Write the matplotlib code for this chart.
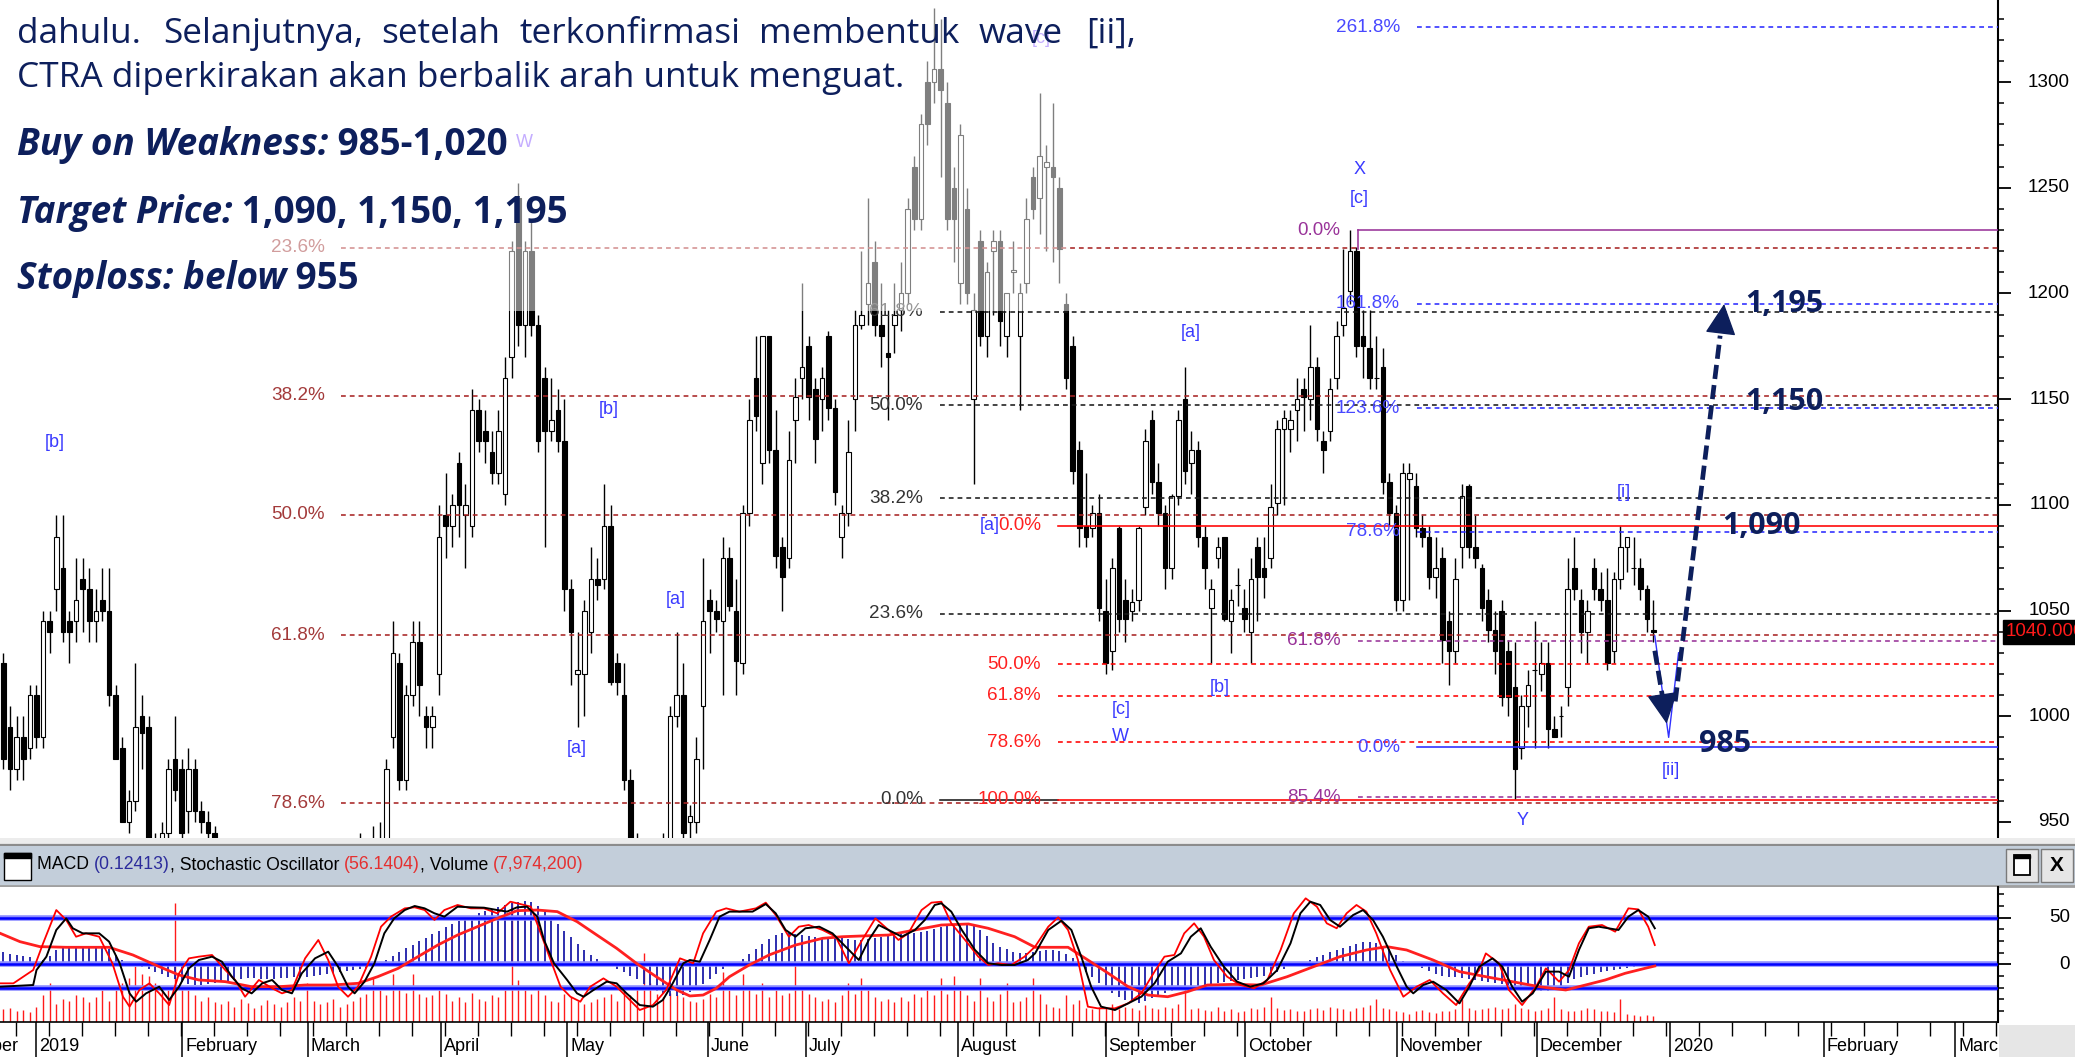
"""
CTRA daily candlestick chart with Elliott-wave / Fibonacci markup and a
MACD + stochastic + volume sub panel.  Saves out.png (2075 x 1057 px).
"""

import matplotlib
matplotlib.use("Agg")
import matplotlib.pyplot as plt
import numpy as np
from matplotlib.patches import Rectangle
from matplotlib.ticker import MultipleLocator

W, H = 2075, 1057

# ---------------------------------------------------------------- data
# trading-day index of the first candle (0 = first session of 2019)
FIRST_DAY = -5

OPEN = [
    1025, 995, 975, 990, 985,                                   # -5..-1
    1010, 990, 1045, 1060, 1070, 1045, 1045, 1065, 1060, 1045,  # 0..9
    1055, 1050, 1010, 985, 950, 960, 1000, 995, 940, 930,       # 10..19
    945, 980, 975, 955, 975, 955, 950, 945, 930, 920,           # 20..29
    910, 920, 910, 895, 905, 895, 880, 890, 880, 865,           # 30..39
    875, 890, 900, 895, 915, 925, 915, 905, 915, 930,           # 40..49
    925, 935, 930, 940, 990, 1025, 970, 1010, 1035, 1000,       # 50..59
    995, 1020, 1095, 1090, 1120, 1095, 1090, 1145, 1135, 1125,  # 60..69
    1115, 1105, 1170, 1245, 1185, 1220, 1185, 1160, 1135, 1145,  # 70..79
    1130, 1060, 1020, 1020, 1040, 1065, 1065, 1090, 1025, 1010,  # 80..89
    970, 940, 925, 915, 925, 930, 935, 1000, 1010, 950,         # 90..99
    950, 1005, 1055, 1050, 1045, 1075, 1050, 1025, 1096, 1160,  # 100..109
    1120, 1180, 1126, 1080, 1075, 1140, 1160, 1175, 1155, 1150,  # 110..119
    1180, 1146, 1085, 1096, 1150, 1185, 1195, 1215, 1185, 1172,  # 120..129
    1185, 1192, 1200, 1260, 1235, 1300, 1300, 1306, 1290, 1250,  # 130..139
    1205, 1240, 1150, 1225, 1180, 1220, 1225, 1180, 1210, 1180,  # 140..149
    1205, 1255, 1245, 1260, 1260, 1250, 1195, 1175, 1126, 1090,  # 150..159
    1089, 1096, 1050, 1031, 1089, 1055, 1050, 1055, 1099, 1140,  # 160..169
    1111, 1096, 1070, 1104, 1150, 1120, 1126, 1085, 1051, 1075,  # 170..179
    1085, 1045, 1062, 1051, 1040, 1080, 1070, 1075, 1101, 1136,  # 180..189
    1136, 1145, 1155, 1150, 1165, 1130, 1135, 1160, 1185, 1201,  # 190..199
    1220, 1180, 1174, 1160, 1165, 1111, 1096, 1055, 1112, 1109,  # 200..209
    1089, 1085, 1066, 1075, 1045, 1031, 1080, 1109, 1080, 1070,  # 210..219
    1055, 1041, 1050, 1031, 1014, 985, 1005, 1022, 1020, 1025,   # 220..229
    994, 1000, 1014, 1070, 1055, 1040, 1070, 1060, 1055, 1031,   # 230..239
    1065, 1080, 1070, 1070, 1060, 1041,                          # 240..245
]
HIGH = [
    1030, 1005, 1000, 1000, 1015,
    1015, 1050, 1050, 1095, 1095, 1050, 1075, 1075, 1070, 1060,
    1070, 1070, 1015, 990, 965, 1025, 1010, 1000, 945, 950,
    980, 1000, 980, 985, 980, 960, 955, 948, 940, 935,
    925, 930, 915, 910, 915, 900, 895, 900, 890, 880,
    895, 905, 915, 920, 930, 935, 925, 920, 935, 945,
    940, 948, 950, 980, 1045, 1030, 1015, 1045, 1045, 1005,
    1005, 1100, 1115, 1105, 1125, 1110, 1155, 1150, 1145, 1135,
    1145, 1170, 1225, 1252, 1225, 1235, 1190, 1165, 1160, 1155,
    1150, 1065, 1040, 1055, 1080, 1075, 1110, 1100, 1030, 1025,
    975, 945, 935, 930, 940, 945, 1005, 1040, 1025, 958,
    990, 1075, 1060, 1055, 1085, 1080, 1065, 1100, 1150, 1180,
    1180, 1180, 1145, 1085, 1135, 1160, 1205, 1180, 1160, 1165,
    1182, 1150, 1100, 1140, 1192, 1220, 1245, 1225, 1205, 1192,
    1205, 1215, 1245, 1265, 1285, 1310, 1335, 1330, 1300, 1260,
    1280, 1250, 1200, 1230, 1215, 1230, 1230, 1200, 1225, 1205,
    1245, 1260, 1295, 1270, 1290, 1255, 1200, 1180, 1130, 1115,
    1100, 1105, 1065, 1075, 1090, 1065, 1060, 1090, 1136, 1145,
    1120, 1100, 1105, 1145, 1165, 1135, 1130, 1090, 1065, 1085,
    1085, 1060, 1070, 1060, 1075, 1085, 1085, 1110, 1140, 1145,
    1145, 1160, 1160, 1185, 1170, 1135, 1160, 1187, 1221, 1230,
    1222, 1192, 1192, 1180, 1174, 1115, 1100, 1120, 1120, 1115,
    1095, 1090, 1085, 1080, 1050, 1075, 1110, 1110, 1095, 1072,
    1060, 1050, 1055, 1036, 1035, 1010, 1022, 1045, 1035, 1035,
    1000, 1005, 1075, 1085, 1060, 1055, 1075, 1068, 1070, 1068,
    1090, 1085, 1085, 1075, 1062, 1055,
]
LOW = [
    975, 965, 970, 970, 980,
    985, 985, 1030, 1050, 1035, 1025, 1035, 1040, 1035, 1035,
    1045, 1005, 980, 950, 945, 955, 975, 935, 920, 925,
    940, 960, 940, 945, 950, 945, 935, 925, 915, 905,
    900, 905, 890, 885, 890, 875, 870, 875, 860, 855,
    870, 880, 890, 890, 905, 910, 900, 895, 910, 920,
    915, 925, 925, 930, 985, 965, 965, 1005, 1000, 985,
    985, 1010, 1075, 1080, 1085, 1070, 1085, 1125, 1120, 1110,
    1110, 1100, 1160, 1175, 1170, 1180, 1125, 1080, 1130, 1125,
    1050, 1015, 995, 1000, 1030, 1055, 1060, 1015, 1010, 965,
    935, 920, 910, 905, 915, 920, 930, 995, 940, 940,
    945, 975, 1030, 1040, 1010, 1050, 1010, 1020, 1090, 1135,
    1110, 1120, 1070, 1050, 1070, 1120, 1150, 1140, 1120, 1135,
    1140, 1100, 1075, 1090, 1135, 1183, 1185, 1180, 1165, 1140,
    1172, 1182, 1195, 1230, 1230, 1270, 1290, 1255, 1230, 1215,
    1195, 1195, 1110, 1175, 1170, 1190, 1175, 1170, 1200, 1145,
    1200, 1235, 1228, 1220, 1215, 1205, 1155, 1110, 1080, 1080,
    1085, 1045, 1020, 1022, 1040, 1035, 1045, 1050, 1095, 1105,
    1090, 1060, 1065, 1100, 1110, 1105, 1080, 1060, 1025, 1070,
    1045, 1030, 1052, 1040, 1025, 1045, 1056, 1070, 1095, 1100,
    1125, 1130, 1135, 1140, 1130, 1115, 1130, 1155, 1180, 1195,
    1170, 1160, 1155, 1155, 1105, 1090, 1050, 1050, 1055, 1085,
    1080, 1060, 1056, 1025, 1015, 1025, 1070, 1075, 1070, 1045,
    1035, 1020, 1005, 1000, 961, 980, 995, 985, 1012, 985,
    990, 990, 1005, 1055, 1030, 1025, 1055, 1050, 1022, 1025,
    1060, 1068, 1062, 1055, 1040, 1035,
]
CLOSE = [
    980, 975, 990, 980, 1010,
    990, 1045, 1040, 1085, 1040, 1040, 1055, 1060, 1045, 1050,
    1050, 1010, 980, 950, 960, 995, 992, 940, 930, 945,
    975, 965, 945, 975, 955, 950, 945, 930, 920, 910,
    920, 910, 895, 905, 895, 880, 890, 880, 865, 875,
    890, 900, 895, 915, 925, 915, 905, 915, 930, 925,
    935, 930, 940, 975, 1030, 970, 1010, 1035, 1015, 995,
    1000, 1085, 1090, 1100, 1100, 1100, 1145, 1130, 1130, 1115,
    1135, 1160, 1220, 1185, 1220, 1185, 1130, 1135, 1140, 1130,
    1060, 1040, 1022, 1050, 1065, 1062, 1090, 1016, 1016, 970,
    940, 925, 915, 925, 930, 935, 1000, 1010, 945, 953,
    980, 1045, 1050, 1046, 1075, 1052, 1026, 1096, 1140, 1142,
    1180, 1126, 1076, 1066, 1121, 1151, 1165, 1151, 1131, 1160,
    1146, 1106, 1096, 1125, 1185, 1190, 1205, 1185, 1180, 1170,
    1190, 1200, 1240, 1235, 1280, 1280, 1306, 1296, 1235, 1235,
    1275, 1200, 1192, 1180, 1210, 1225, 1187, 1200, 1211, 1200,
    1235, 1240, 1265, 1262, 1255, 1221, 1160, 1116, 1089, 1085,
    1096, 1051, 1025, 1070, 1046, 1046, 1054, 1089, 1130, 1111,
    1096, 1070, 1104, 1140, 1116, 1126, 1085, 1070, 1060, 1080,
    1046, 1055, 1062, 1046, 1065, 1066, 1066, 1099, 1136, 1141,
    1140, 1150, 1151, 1165, 1136, 1126, 1155, 1180, 1193, 1220,
    1175, 1175, 1160, 1160, 1111, 1096, 1055, 1115, 1115, 1089,
    1085, 1066, 1070, 1036, 1031, 1065, 1104, 1080, 1075, 1051,
    1041, 1031, 1009, 1009, 975, 1005, 1015, 1022, 1025, 994,
    990, 1000, 1060, 1060, 1040, 1050, 1060, 1055, 1025, 1065,
    1080, 1085, 1070, 1060, 1046, 1040,
]

# volume, millions of shares, one per candle
VOLUME = [
    18, 20, 15, 17, 14,
    22, 38, 56, 25, 33, 30, 38, 35, 28, 36, 45,
    30, 45, 56, 62, 80, 68, 65, 56, 50, 45,
    170,
    50, 45, 38, 30, 35, 28, 25, 30, 22, 33, 27, 20, 24, 31, 26, 22, 28, 35, 30,
    56, 30, 25, 28, 33, 22, 26, 30, 35, 40, 62, 45, 38, 68, 50, 42, 68, 40, 35, 38,
    45, 40, 30, 36, 28, 42, 33, 30, 38, 35, 45, 170, 60, 45, 40,
    50, 38, 30, 28, 40, 35, 30, 25, 28, 33, 36, 40, 30, 45, 38, 50, 98, 55, 40, 35,
    42, 38, 35, 30, 28, 33, 40, 36, 71, 45, 38, 68, 50, 40, 56, 35, 45, 38, 42, 86,
    50, 40, 36, 30, 33, 28, 38, 56, 40, 62, 45, 35, 30, 33, 28, 36, 30, 40, 35, 45,
    38, 62, 40, 66, 45, 38, 30, 62, 35, 30, 40, 56, 28, 30, 35, 62, 40,
    25, 22, 20, 38, 25, 32, 20, 18,
    22, 20, 25, 18, 22, 20, 17, 24, 20, 18,
    22, 20, 25, 48, 18, 20, 17, 16, 22, 15,
    18, 14, 16, 20, 18, 22, 36, 20, 17, 18,
    16, 15, 18, 20, 17, 22, 20, 18, 16, 20,
    22, 24, 33, 20, 18, 16, 14, 12, 15, 17,
    14, 13, 16, 15, 18, 33, 20, 17, 18, 20,
    22, 18, 20, 25, 20, 18, 16, 17, 20, 36,
    18, 16, 15, 17, 20, 18, 16, 15, 14, 33,
    12, 10, 9, 10, 8,
]

# MACD histogram in panel units, one per candle
MACD_HIST = [
    13, 11, 10, 9, 8,
    3, 5, 9,
    15, 17, 18, 18, 18, 18, 18, 17, 16,
    10, 5, 1, -2,
    -3, -5, -8, -10, -13, -16, -19, -21, -22, -22,
    -21, -20, -19, -18, -17, -16, -15, -15, -16, -16,
    -16, -15, -15, -14, -13, -13, -12, -11, -10, -9,
    -8, -7, -6, -5, -4, -3,
    2, 5, 9, 13, 17, 21, 25, 28, 32, 36,
    40, 43, 46, 49, 52, 55, 57, 59, 61, 63,
    65, 67, 68, 67, 62, 56, 50, 43, 36, 29,
    22, 15, 10, 6, 3,
    -2, -5, -8, -12, -16, -21, -25, -29, -32, -34, -34, -33, -30, -26, -21, -16, -10,
    -5, -2, 2, 6, 11, 16, 22, 27, 31, 33,
    33, 32, 31, 30, 29, 28, 28, 28, 28, 27,
    26, 26, 27, 28, 29, 30, 31, 32, 32, 33,
    34, 36, 38, 40, 42, 43, 44, 44, 42, 37,
    30, 23, 19, 16, 13,
    12, 12, 13, 14, 15, 15, 14, 11, 7,
    -3, -8, -14, -20, -26, -31, -35, -38, -40, -41,
    -39, -36, -33, -31, -29, -27, -25, -24, -23, -22,
    -21, -20, -19, -18, -17, -16, -15, -14, -12, -10,
    -8, -5, -2,
    1, 3, 5, 8, 10, 13, 15, 17, 20, 22, 24, 24, 23, 20, 16, 10, 4,
    -1, -2, -4, -7, -10, -12, -13, -14, -15, -16,
    -17, -18, -19, -20, -21, -23, -25, -26, -27, -28,
    -29, -28, -26, -23, -20, -16, -13, -11, -10, -8,
    -7, -6, -5,
    -4, -3, -2, -2, -1,
]

# stochastic %K (black)
STOCH_K_X = [
    -5.5, -0.5, 0.0, 1.5, 3.0, 4.5, 5.5, 7.0, 9.5, 11.0,
    12.6, 14.1, 15.1, 16.6, 18.6, 20.1, 21.6, 23.1, 24.6, 26.6,
    28.1, 29.6, 31.1, 32.6, 34.2, 35.7, 37.2, 38.7, 40.2, 42.2,
    44.2, 45.7, 47.2, 48.2, 49.7, 51.2, 52.7, 54.2, 55.8, 57.3,
    58.8, 60.3, 61.8, 63.8, 65.8, 67.8, 69.8, 71.3, 72.8, 74.3,
    75.9, 76.9, 78.4, 80.4, 81.9, 82.9, 84.4, 86.4, 87.9, 89.4,
    91.4, 93.4, 94.9, 96.4, 98.0, 99.0, 100.5, 102.0, 103.5, 105.0,
    106.5, 108.5, 110.5, 112.0, 113.5, 115.0, 116.5, 118.6, 120.6, 122.6,
    124.6, 126.1, 127.6, 129.1, 131.1, 133.1, 134.6, 136.1, 137.1, 138.6,
    140.2, 142.2, 144.2, 146.2, 148.2, 150.2, 151.3, 153.3, 155.3, 156.8,
    158.3, 159.8, 161.3, 163.4, 165.4, 167.4, 169.4, 171.4, 173.4, 174.9,
    176.4, 177.9, 179.9, 181.9, 183.9, 185.9, 188.0, 190.0, 191.5, 193.0,
    194.5, 196.0, 197.5, 199.5, 201.0, 202.5, 204.0, 206.1, 207.6, 208.6,
    210.1, 211.6, 213.6, 215.6, 217.1, 218.6, 220.6, 222.1, 223.6, 225.1,
    226.7, 228.7, 230.7, 232.2, 233.7, 235.2, 236.7, 238.2, 239.7, 241.2,
    242.7, 244.2, 245.2,
]
STOCH_K = [
    -23.9, -22.1, -6.1, 8.2, 36.7, 49.1, 38.5, 33.1, 33.1, 24.2,
    1.1, -31.0, -39.9, -31.0, -23.9, -38.1, -23.9, -4.3, 4.6, 8.2,
    2.8, -13.2, -25.6, -31.0, -20.3, -16.7, -27.4, -31.0, -9.6, 6.4,
    13.5, -2.5, -23.9, -31.0, -18.5, 1.1, 33.1, 49.1, 58.0, 62.3,
    59.8, 54.5, 50.9, 61.6, 60.9, 60.5, 58.0, 56.3, 60.9, 61.6,
    50.9, 26.0, 1.1, -16.7, -31.0, -34.6, -27.4, -18.5, -20.3, -31.0,
    -43.5, -45.2, -38.1, -20.3, 1.1, 4.6, 2.8, 26.0, 50.9, 56.3,
    56.3, 56.3, 64.4, 54.5, 36.7, 29.5, 38.5, 40.2, 33.1, 18.9,
    4.6, 26.0, 42.0, 36.7, 29.5, 36.7, 47.4, 63.4, 65.2, 56.3,
    36.7, 15.3, 1.1, -0.7, -0.7, 4.6, 11.7, 36.7, 46.6, 36.7,
    8.2, -23.9, -45.2, -48.8, -41.7, -34.6, -20.3, 2.8, 11.7, 29.5,
    38.5, 18.9, -2.5, -18.5, -23.9, -20.3, -6.1, 22.4, 54.5, 66.9,
    63.4, 47.4, 40.2, 52.7, 58.0, 47.4, 29.5, -2.5, -23.9, -31.0,
    -22.1, -18.5, -27.4, -41.7, -23.9, -2.5, 6.4, -2.5, -23.9, -39.9,
    -31.0, -7.8, -7.8, -13.2, 15.3, 38.5, 40.2, 38.5, 36.7, 50.9,
    58.0, 50.9, 38.5,
]

# stochastic fast line (thin red)
STOCH_F_X = [
    -5.5, -3.5, -0.5, 1.0, 3.0, 4.5, 6.0, 7.5, 9.5, 11.5,
    13.1, 14.1, 15.6, 17.1, 18.6, 20.1, 21.6, 23.1, 24.6, 26.6,
    28.6, 30.1, 31.6, 33.7, 35.7, 37.2, 38.7, 40.7, 42.7, 44.2,
    45.7, 47.2, 48.7, 50.7, 52.2, 53.7, 55.8, 57.3, 58.8, 60.3,
    61.8, 63.8, 65.8, 67.8, 69.8, 71.8, 73.3, 74.9, 76.4, 77.9,
    79.4, 80.9, 82.4, 83.9, 85.9, 87.9, 89.9, 91.4, 93.4, 95.4,
    97.5, 99.5, 101.0, 103.0, 104.5, 106.5, 109.0, 110.5, 112.0, 114.0,
    115.5, 117.0, 119.1, 121.1, 123.1, 125.1, 127.1, 129.1, 130.6, 132.1,
    134.1, 135.6, 137.1, 138.6, 140.7, 142.7, 144.2, 145.7, 147.7, 149.7,
    151.3, 153.3, 154.8, 156.3, 157.8, 159.3, 160.8, 163.4, 165.4, 167.4,
    169.4, 170.9, 172.4, 173.9, 175.4, 176.9, 178.4, 180.4, 182.4, 184.5,
    186.5, 188.5, 190.5, 192.3, 194.0, 195.5, 197.0, 198.5, 200.0, 201.5,
    203.0, 205.1, 207.1, 209.1, 211.1, 213.1, 215.1, 217.1, 218.6, 219.6,
    221.6, 223.1, 225.1, 227.2, 228.7, 230.7, 232.2, 233.7, 235.2, 237.2,
    239.2, 241.2, 242.7, 244.2, 245.2,
]
STOCH_F = [
    -20.3, -20.3, -6.1, 22.4, 58.0, 47.4, 29.5, 33.1, 29.5, 1.1,
    -34.6, -45.2, -27.4, -20.3, -31.0, -43.5, -9.6, 6.4, 8.2, 10.0,
    -6.1, -16.7, -34.6, -16.7, -25.6, -31.0, -27.4, 6.4, 26.0, 4.6,
    -23.9, -34.6, -23.9, 8.2, 40.2, 50.9, 59.8, 60.9, 58.0, 47.4,
    58.0, 63.4, 59.8, 59.8, 54.5, 66.9, 64.4, 61.6, 33.1, 4.6,
    -23.9, -34.6, -39.9, -23.9, -15.0, -23.9, -38.1, -48.8, -43.5, -27.4,
    6.4, 1.1, 33.1, 56.3, 59.8, 56.3, 59.8, 65.9, 52.7, 29.5,
    40.2, 42.0, 36.7, 29.5, 1.1, 26.0, 49.1, 36.7, 26.0, 33.1,
    58.0, 65.9, 66.9, 43.8, 26.0, 8.2, -0.7, 1.1, -0.7, 8.2,
    18.9, 40.2, 50.2, 36.7, 4.6, -45.2, -47.0, -47.0, -41.7, -31.0,
    -7.8, 8.2, 10.0, 33.1, 43.8, 29.5, 4.6, -13.2, -22.1, -25.6,
    -16.7, 15.3, 54.5, 70.5, 61.6, 43.8, 38.5, 54.5, 63.4, 56.3,
    33.1, -6.1, -34.6, -23.9, -16.7, -31.0, -43.5, -20.3, -6.1, 11.7,
    1.1, -27.4, -43.5, -23.9, -4.3, -18.5, -6.1, 22.4, 40.2, 42.0,
    34.9, 59.8, 58.7, 40.2, 20.6,
]

# slow signal line (thick red)
SIGNAL_X = [
    -5.5, -2.5, 0.5, 4.5, 11.0, 14.6, 18.6, 21.6, 24.6, 28.6,
    32.6, 36.7, 40.7, 44.7, 48.7, 51.7, 54.8, 57.8, 60.8, 63.8,
    66.8, 69.8, 72.8, 75.9, 78.9, 81.9, 84.9, 87.9, 90.9, 93.9,
    97.0, 99.0, 101.0, 103.0, 105.0, 108.0, 111.0, 115.0, 119.1, 122.1,
    125.1, 129.1, 133.1, 137.1, 141.2, 144.2, 148.2, 151.3, 156.3, 159.3,
    162.4, 165.4, 168.4, 171.4, 174.4, 177.4, 181.4, 185.5, 189.5, 193.5,
    197.5, 201.5, 204.6, 207.6, 211.6, 215.6, 219.6, 223.6, 227.7, 231.7,
    234.7, 237.7, 240.7, 243.7, 245.2,
]
SIGNAL = [
    33.1, 24.2, 18.9, 18.2, 18.2, 10.0, -2.5, -11.4, -16.7, -18.5,
    -23.9, -23.9, -22.1, -22.1, -20.3, -13.2, -4.3, 8.2, 20.6, 31.3,
    40.2, 49.1, 57.3, 58.0, 56.3, 45.6, 31.3, 17.1, 1.1, -13.2,
    -27.4, -33.8, -32.8, -25.6, -13.2, -0.7, 10.0, 20.6, 27.8, 29.5,
    30.3, 31.3, 36.7, 42.0, 43.1, 38.5, 29.5, 18.2, 18.2, 4.6,
    -9.6, -23.9, -32.8, -34.6, -29.2, -22.1, -21.4, -22.1, -13.2, -2.5,
    8.2, 15.3, 18.9, 15.3, 4.6, -7.8, -13.2, -18.5, -23.9, -27.4,
    -22.1, -16.7, -9.6, -4.3, -1.8,
]
IND_LEVELS = [50, 0, -25.6]

# Fibonacci sets: labels and the price each line sits on
DARKRED_FIB = ["23.6%", "38.2%", "50.0%", "61.8%", "78.6%"]
DARKRED_PRICE = [1221.7, 1151.6, 1095.3, 1038.4, 958.9]
BLACK_FIB = ["61.8%", "50.0%", "38.2%", "23.6%", "0.0%"]
BLACK_PRICE = [1191.4, 1147.2, 1103.1, 1048.5, 960.4]
RED_FIB = ["0.0%", "50.0%", "61.8%", "78.6%", "100.0%"]
RED_PRICE = [1090.0, 1024.5, 1009.7, 987.7, 960.4]
PURPLE_FIB = ["0.0%", "61.8%", "85.4%"]
PURPLE_PRICE = [1230.0, 1035.6, 961.6]
BLUE_FIB = ["261.8%", "161.8%", "123.6%", "78.6%", "0.0%"]
BLUE_PRICE = [1326.0, 1195.0, 1145.8, 1087.3, 985.4]

# Elliott wave labels (trading-day index, price)
WAVE_TEXT = ["[b]", "[b]", "[a]", "[a]", "[a]", "X", "[c]", "[c]", "W", "[b]", "[i]", "[ii]", "Y"]
WAVE_X = [2.7, 86.7, 81.9, 96.9, 174.9, 200.4, 200.4, 164.3, 164.3, 179.3, 240.5, 247.7, 225.2]
WAVE_Y = [1129.7, 1145.3, 984.9, 1055.0, 1181.7, 1258.8, 1244.7, 1003.4, 990.6, 1013.8, 1106.0, 974.5, 950.9]
FADED_TEXT = ["W", "[c]"]
FADED_X = [74.0, 152.3]
FADED_Y = [1271.6, 1320.8]

TARGET_TEXT = ["1,195", "1,150", "1,090", "985"]
TARGET_X = [258.9, 258.9, 255.4, 251.9]
TARGET_Y = [1195.0, 1148.6, 1090.0, 986.8]

MONTH_NAMES = ["December", "2019", "February", "March", "April", "May", "June", "July",
               "August", "September", "October", "November", "December", "2020",
               "February", "March"]
MONTH_POS = [-15.8, 0, 22.05, 41.1, 61.3, 80.4, 101.7, 116.6, 139.6, 162.0, 183.1,
             206.1, 227.3, 247.5, 270.8, 290.7]

LAST_PRICE = 1040

# ---------------------------------------------------------------- style
NAVY = "#0d1f5c"
DARKRED = "#a82424"
PURPLE = "#993399"
BLUE = "#2b2bff"
WAVE_BLUE = "#3a3aff"
CHART_FONT = "Liberation Sans"
TEXT_FONT = "Open Sans"
DOTS = (0, (3, 2.5))

X_MIN, X_MAX = -5.53, 297.2
P_MIN, P_MAX = 942.4, 1338.8
IND_MIN, IND_MAX = -61.6, 82.6
VOL_SCALE = 0.75


def fbox(x0, y0, x1, y1):
    """pixel box (top-left origin) -> figure fraction rect"""
    return [x0 / W, 1 - y1 / H, (x1 - x0) / W, (y1 - y0) / H]


fig = plt.figure(figsize=(W / 100, H / 100), dpi=100)
fig.patch.set_facecolor("white")

# ================================================================ price panel
ax = fig.add_axes(fbox(0, 0, 1998, 838))
for side in ("top", "left", "bottom"):
    ax.spines[side].set_visible(False)
ax.spines["right"].set_linewidth(1.5)
ax.set_xticks([])
ax.yaxis.tick_right()
ax.yaxis.set_major_locator(MultipleLocator(50))
ax.yaxis.set_minor_locator(MultipleLocator(10))
ax.tick_params(axis="y", which="major", length=9, width=1.3, labelright=False)
ax.tick_params(axis="y", which="minor", length=4.5, width=1.1)

idx = np.arange(FIRST_DAY, FIRST_DAY + len(OPEN))
o, h, l, c = (np.array(v, dtype=float) for v in (OPEN, HIGH, LOW, CLOSE))
up = c >= o
ax.vlines(idx, l, h, color="black", lw=1.0, zorder=2)
ax.bar(idx, np.abs(c - o), bottom=np.minimum(o, c), width=0.72,
       color=np.where(up, "white", "black"), edgecolor="black", linewidth=0.8, zorder=2.1)


def fib(labels, prices, x_line, x_label, color, label_color, solid=(), ends=None):
    for k, (lab, p) in enumerate(zip(labels, prices)):
        x1 = X_MAX if ends is None or ends[k] is None else ends[k]
        ax.plot([x_line, x1], [p, p], color=color, lw=1.15,
                ls="-" if lab in solid else DOTS, zorder=3)
        ax.text(x_label, p, lab, color=label_color, ha="right", va="center",
                fontsize=13.6, family=CHART_FONT, zorder=4)


fib(DARKRED_FIB, DARKRED_PRICE, 46.2, 43.7, DARKRED, "#a33a3a")
fib(BLACK_FIB, BLACK_PRICE, 136.9, 134.3, "#1a1a1a", "#333333", solid=("0.0%",),
    ends=[None, None, None, None, 154.7])
fib(RED_FIB, RED_PRICE, 154.8, 152.2, "#ff0000", "#ff2020", solid=("0.0%", "100.0%"))
fib(PURPLE_FIB, PURPLE_PRICE, 200.3, 197.6, PURPLE, PURPLE, solid=("0.0%",))
fib(BLUE_FIB, BLUE_PRICE, 209.2, 206.6, BLUE, "#4848ff", solid=("0.0%",))
ax.plot([200.3, 200.3], [PURPLE_PRICE[0], 1221], color=PURPLE, lw=1.15, zorder=3)
ax.text(145.9, RED_PRICE[0], "[a]", color=WAVE_BLUE, ha="right", va="center",
        fontsize=13, family=CHART_FONT, zorder=4)

for s, x, y in zip(WAVE_TEXT, WAVE_X, WAVE_Y):
    ax.text(x, y, s, color=WAVE_BLUE, ha="center", va="center", fontsize=13,
            family=CHART_FONT, zorder=4)
for s, x, y in zip(FADED_TEXT, FADED_X, FADED_Y):
    ax.text(x, y, s, color="#8a5cff", ha="center", va="center", fontsize=13,
            family=CHART_FONT, zorder=4)

# white veil behind the commentary text
ax.add_patch(Rectangle((X_MIN, 1191.7), 156.6 - X_MIN, P_MAX - 1191.7,
                       facecolor="white", alpha=0.5, edgecolor="none", zorder=5))

# projected path
ax.plot([245.2, 247.3, 248.8], [1038, 990, 1030], color="#3030ff", lw=1.0, zorder=5.5)
ax.plot([245.2, 246.7], [1031, 1003], color=NAVY, lw=3.4, ls=(0, (3, 1.3)), zorder=6)
ax.annotate("", xy=(247.0, 996.5), xytext=(246.55, 1006),
            arrowprops=dict(arrowstyle="-|>,head_length=1.1,head_width=0.55", color=NAVY,
                            lw=1, mutation_scale=18, shrinkA=0, shrinkB=0), zorder=6)
ax.plot([248.3, 255.1], [1007, 1180], color=NAVY, lw=3.4, ls=(0, (3, 1.3)), zorder=6)
ax.annotate("", xy=(255.7, 1195), xytext=(255.2, 1182),
            arrowprops=dict(arrowstyle="-|>,head_length=1.1,head_width=0.55", color=NAVY,
                            lw=1, mutation_scale=18, shrinkA=0, shrinkB=0), zorder=6)
for s, x, y in zip(TARGET_TEXT, TARGET_X, TARGET_Y):
    ax.text(x, y, s, color=NAVY, ha="left", va="center", fontsize=22, fontweight="bold",
            family=TEXT_FONT, zorder=6)

ax.set_xlim(X_MIN, X_MAX)
ax.set_ylim(P_MIN, P_MAX)

# right-hand price labels and last price tag
for v in range(950, 1301, 50):
    ax.annotate(str(v), xy=(1, v), xycoords=("axes fraction", "data"), xytext=(72, 0),
                textcoords="offset pixels", ha="right", va="center", fontsize=13.6,
                family=CHART_FONT, annotation_clip=False)
ax.annotate(f"{LAST_PRICE:.3f}", xy=(1, LAST_PRICE), xycoords=("axes fraction", "data"),
            xytext=(8, 0), textcoords="offset pixels", ha="left", va="center",
            fontsize=13.6, family=CHART_FONT, color="#ff1a1a", annotation_clip=False,
            bbox=dict(boxstyle="square,pad=0.18", fc="black", ec="black"), zorder=8)

# commentary text (top left)
LINE2_WORDS = ["dahulu.", "Selanjutnya,", "setelah", "terkonfirmasi", "membentuk", "wave", "[ii],"]
LINE2_X = [17, 163, 381, 519, 759, 979, 1086]
for word, x in zip(LINE2_WORDS, LINE2_X):
    ax.text(x / W, 1 - 43 / H, word, transform=fig.transFigure, fontsize=25.3,
            family=TEXT_FONT, color=NAVY, va="baseline", ha="left", zorder=7)
ax.text(17 / W, 1 - 87 / H, "CTRA diperkirakan akan berbalik arah untuk menguat.",
        transform=fig.transFigure, fontsize=25.4, family=TEXT_FONT, color=NAVY,
        va="baseline", ha="left", zorder=7)


def chained(axis, parts, x, y, **base):
    prev = None
    for s, extra in parts:
        kw = dict(base)
        kw.update(extra)
        if prev is None:
            prev = axis.text(x / W, 1 - y / H, s, transform=fig.transFigure,
                             va="baseline", ha="left", **kw)
        else:
            prev = axis.annotate(s, xy=(1, 0), xycoords=prev, va="bottom", ha="left",
                                 annotation_clip=False, **kw)
    return prev


bold = dict(fontsize=26.6, family=TEXT_FONT, color=NAVY, fontweight="bold", zorder=7)
chained(ax, [("Buy on Weakness:", {"fontstyle": "italic"}), (" 985-1,020", {})], 17, 155, **bold)
chained(ax, [("Target Price:", {"fontstyle": "italic"}), (" 1,090, 1,150, 1,195", {})], 17, 223, **bold)
chained(ax, [("Stoploss: below", {"fontstyle": "italic"}), (" 955", {})], 17, 289, **bold)

# ================================================================ separators / header
ax_sep = fig.add_axes(fbox(0, 838, 2075, 846))
ax_sep.set_facecolor("#ececec")
ax_sep.set_xticks([])
ax_sep.set_yticks([])
for sp in ax_sep.spines.values():
    sp.set_visible(False)
ax_sep.axhline(0.1, color="#8c8c8c", lw=1.6)

ax_head = fig.add_axes(fbox(0, 846, 2075, 886))
ax_head.set_facecolor("#c3ceda")
ax_head.set_xlim(0, W)
ax_head.set_ylim(886, 846)
ax_head.set_xticks([])
ax_head.set_yticks([])
for sp in ax_head.spines.values():
    sp.set_visible(False)
ax_head.spines["bottom"].set_visible(True)
ax_head.spines["bottom"].set_color("#a0a0a0")
ax_head.spines["bottom"].set_linewidth(2)

# window icon and buttons
ax_head.add_patch(Rectangle((4, 853), 27, 27, facecolor="white", edgecolor="black", lw=1))
ax_head.add_patch(Rectangle((4, 853), 27, 5, facecolor="black", edgecolor="black", lw=1))
for bx in (2006, 2041):
    ax_head.add_patch(Rectangle((bx, 849), 32, 33, facecolor="#e6e6e6", edgecolor="#7a7a7a", lw=1))
ax_head.add_patch(Rectangle((2014, 855), 16, 20, facecolor="white", edgecolor="black", lw=1.3))
ax_head.add_patch(Rectangle((2014, 855), 16, 3, facecolor="black", edgecolor="black", lw=1))
ax_head.text(2057, 866, "X", ha="center", va="center", fontsize=15, fontweight="bold",
             family=CHART_FONT)

hdr = dict(fontsize=12.7, family=CHART_FONT, color="black")
chained(ax_head, [("MACD ", {}), ("(0.12413)", {"color": "#2c2c9c"}),
                  (", Stochastic Oscillator ", {}), ("(56.1404)", {"color": "#e53030"}),
                  (", Volume ", {}), ("(7,974,200)", {"color": "#e53030"})], 37, 869, **hdr)

# ================================================================ indicator panel
axi = fig.add_axes(fbox(0, 887, 1998, 1022))
axi.spines["top"].set_visible(False)
axi.spines["left"].set_visible(False)
axi.spines["right"].set_linewidth(1.5)
axi.spines["bottom"].set_linewidth(1.2)

vidx = np.arange(FIRST_DAY, FIRST_DAY + len(VOLUME))
axi.vlines(vidx, IND_MIN, IND_MIN + np.array(VOLUME) * VOL_SCALE, color="#ff1a1a", lw=1.0, zorder=1)
hidx = np.arange(FIRST_DAY, FIRST_DAY + len(MACD_HIST))
axi.vlines(hidx, 0, MACD_HIST, color="#1c1ca8", lw=1.3, zorder=2)
for lev in IND_LEVELS:
    axi.axhline(lev, color="#8c8cff", lw=4.0, zorder=2.5)
    axi.axhline(lev, color="#0000ff", lw=1.8, zorder=2.6)
axi.plot(SIGNAL_X, SIGNAL, color="#ff2020", lw=2.0, zorder=3)
axi.plot(STOCH_F_X, STOCH_F, color="#ff0000", lw=1.3, zorder=4)
axi.plot(STOCH_K_X, STOCH_K, color="black", lw=1.4, zorder=5)

axi.yaxis.tick_right()
axi.set_yticks([0, 50])
axi.yaxis.set_minor_locator(MultipleLocator(12.5))
axi.tick_params(axis="y", which="major", length=9, width=1.3, labelright=False)
axi.tick_params(axis="y", which="minor", length=4.5, width=1.1)

axi.set_xticks(MONTH_POS)
axi.set_xticklabels([])
axi.set_xticks(np.arange(X_MIN + 2.5, X_MAX, 5), minor=True)
axi.tick_params(axis="x", which="major", length=26, width=1.1, direction="out")
axi.tick_params(axis="x", which="minor", length=10, width=1.0, direction="out")
# set limits after the ticks: set_xticks would otherwise widen the view
axi.set_xlim(X_MIN, X_MAX)
axi.set_ylim(IND_MIN, IND_MAX)

for v in (50, 0):
    axi.annotate(str(v), xy=(1, v), xycoords=("axes fraction", "data"), xytext=(72, 0),
                 textcoords="offset pixels", ha="right", va="center", fontsize=13.6,
                 family=CHART_FONT, annotation_clip=False)
for pos, name in zip(MONTH_POS, MONTH_NAMES):
    axi.annotate(name, xy=(pos, 0), xycoords=("data", "axes fraction"), xytext=(3, -29),
                 textcoords="offset pixels", ha="left", va="baseline", fontsize=13,
                 family=CHART_FONT, annotation_clip=False)

# grey corner under the right axis
fig.add_artist(Rectangle((1999 / W, 0), 76 / W, 32 / H, transform=fig.transFigure,
                         facecolor="#e6e6e6", edgecolor="none", zorder=1))

fig.savefig("out.png", dpi=100)
